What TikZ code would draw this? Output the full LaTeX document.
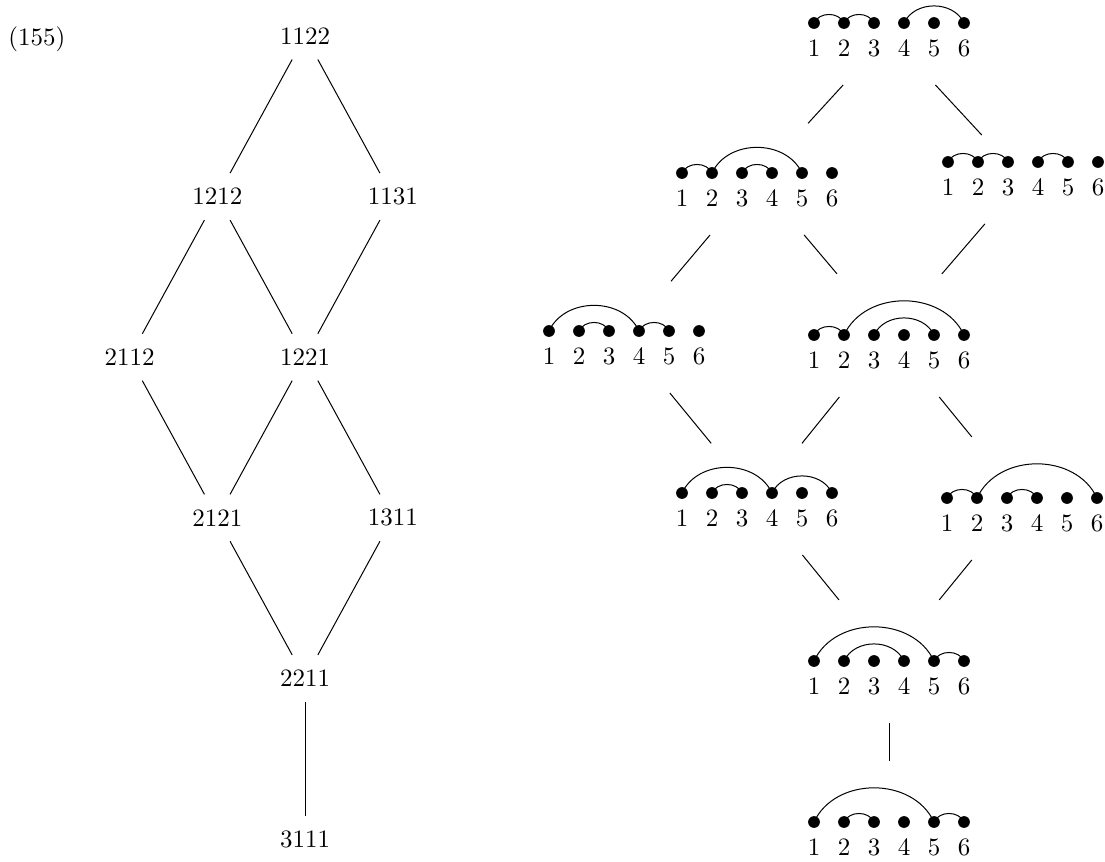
\documentclass[tikz,border=0pt]{standalone}
\tikzset{
  lat/.style={inner sep=2pt, minimum height=18.4pt},
  dotnode/.style={circle, fill, inner sep=0pt, minimum size=4.7pt},
  numlabel/.style={anchor=base, inner sep=0pt},
  diagbox/.style={rectangle, inner sep=0pt, outer sep=0pt, minimum width=68pt},
  conn/.style={line width=0.4pt},
  eqlabel/.style={anchor=base west, inner sep=0pt}
}
% #1 name, #2 x of dot 1, #3 y of dots, #4 largest span (px), #5 arcs
\newcommand\arcdiag[5]{%
  \node[diagbox, minimum height={(77.5+0.38*#4)*0.4pt}] (#1) at ({#2+75},{#3+(46.5-0.38*#4)/2}) {};
  \foreach \i in {1,...,6} {
    \node[dotnode] (#1d\i) at ({#2+30*(\i-1)},#3) {};
    \node[numlabel] (#1n\i) at ({#2+30*(\i-1)},{#3+33}) {\i};
  }
  \foreach \pa/\pb in {#5} {
    \draw[conn] (#1d\pa.center) .. controls +({5.31*(\pb-\pa)},{-11.4*(\pb-\pa)}) and +({-5.31*(\pb-\pa)},{-11.4*(\pb-\pa)}) .. (#1d\pb.center);
  }
}
\begin{document}
\begin{tikzpicture}[x=0.4pt,y=-0.4pt]
\useasboundingbox (0,0) rectangle (1105,861);
% left lattice
\node[eqlabel] (eqno) at (8,45) {(155)};
\node[lat] (a1122) at (305,36) {1122};
\node[lat] (a1212) at (217.25,196.6) {1212};
\node[lat] (a1131) at (392.75,196.6) {1131};
\node[lat] (a2112) at (129.5,357.2) {2112};
\node[lat] (a1221) at (305,357.2) {1221};
\node[lat] (a2121) at (217.25,517.8) {2121};
\node[lat] (a1311) at (392.75,517.8) {1311};
\node[lat] (a2211) at (305,678.4) {2211};
\node[lat] (a3111) at (305,839) {3111};
\draw[conn] (a1122) -- (a1212);
\draw[conn] (a1122) -- (a1131);
\draw[conn] (a1212) -- (a2112);
\draw[conn] (a1212) -- (a1221);
\draw[conn] (a1131) -- (a1221);
\draw[conn] (a2112) -- (a2121);
\draw[conn] (a1221) -- (a2121);
\draw[conn] (a1221) -- (a1311);
\draw[conn] (a2121) -- (a2211);
\draw[conn] (a1311) -- (a2211);
\draw[conn] (a2211) -- (a3111);
% right lattice of arc diagrams
\arcdiag{D1}{814}{23}{60}{1/2,2/3,4/6}
\arcdiag{D2}{682}{173}{90}{1/2,2/5,3/4}
\arcdiag{D3}{948}{162}{30}{1/2,2/3,4/5}
\arcdiag{D4}{549}{331}{90}{1/4,2/3,4/5}
\arcdiag{D5}{814}{335}{120}{1/2,2/6,3/5}
\arcdiag{D6}{682}{493}{90}{1/4,2/3,4/6}
\arcdiag{D7}{947}{498}{120}{1/2,2/6,3/4}
\arcdiag{D8}{814}{661}{120}{1/5,2/4,5/6}
\arcdiag{D9}{814}{822}{120}{1/5,2/3,5/6}
\draw[conn] (D1) -- (D2);
\draw[conn] (D1) -- (D3);
\draw[conn] (D2) -- (D4);
\draw[conn] (D2) -- (D5);
\draw[conn] (D3) -- (D5);
\draw[conn] (D4) -- (D6);
\draw[conn] (D5) -- (D6);
\draw[conn] (D5) -- (D7);
\draw[conn] (D6) -- (D8);
\draw[conn] (D7) -- (D8);
\draw[conn] (D8) -- (D9);
\end{tikzpicture}
\end{document}
